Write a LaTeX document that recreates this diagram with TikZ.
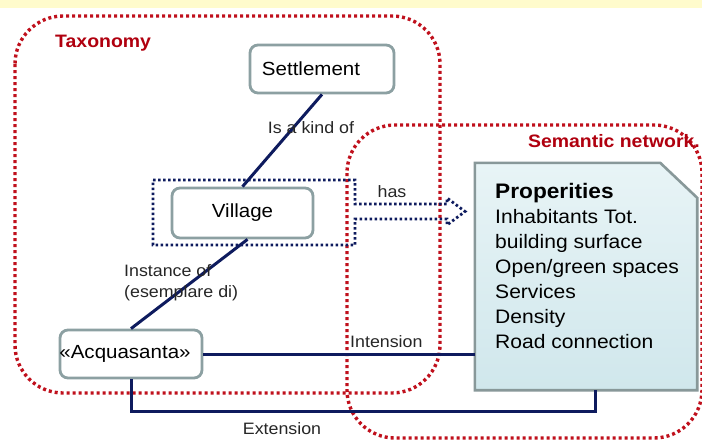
\documentclass[tikz,border=0pt]{standalone}
\usepackage{fontspec}
\setmainfont{Liberation Sans}[FakeStretch=1.08]
\usetikzlibrary{calc}
\definecolor{dotred}{HTML}{C0101C}
\definecolor{labred}{HTML}{B0000F}
\definecolor{navy}{HTML}{0E1B5E}
\definecolor{boxedge}{HTML}{8CA0A2}
\definecolor{propedge}{HTML}{889899}
\definecolor{proptop}{HTML}{E8F4F6}
\definecolor{propbot}{HTML}{D0E7EC}
\definecolor{band}{HTML}{FFFBCC}
\tikzset{
  reddots/.style={draw=dotred, line width=3.4pt, dash pattern=on 3pt off 3pt, rounded corners=48pt},
  conceptbox/.style={draw=boxedge, line width=2.8pt, fill=white, rounded corners=8pt, inner sep=0pt,
    font=\fontsize{19}{22}\selectfont},
  conn/.style={draw=navy, line width=3pt},
  lab/.style={font=\fontsize{16.5}{20}\selectfont, inner sep=0pt, text=black!85},
  grouplab/.style={font=\bfseries\fontsize{18}{21}\selectfont, text=labred, inner sep=0pt},
}
\begin{document}
\begin{tikzpicture}[x=1pt,y=-1pt]
\useasboundingbox (0,0) rectangle (702,442);
\fill[white] (0,0) rectangle (702,442);
\fill[band] (0,0) rectangle (702,8);
% group outlines
\draw[reddots] (15,16) rectangle (440,393);
\draw[reddots] (347,125) rectangle (702,438);
\node[grouplab, anchor=west] (taxlab) at (55,43) {Taxonomy};
\node[grouplab, anchor=east] (semlab) at (700,141) {Semantic network.};
% properties box
\node[minimum width=222pt, minimum height=227pt, inner sep=0pt] (prop) at (586,276.5) {};
\path[draw=propedge, line width=2.6pt, top color=proptop, bottom color=propbot]
  (prop.south west) -- (prop.north west) -- ([xshift=-37pt]prop.north east)
  -- ([yshift=-35pt]prop.north east) -- (prop.south east) -- cycle;
\node[anchor=north west, align=left, inner sep=0pt, font=\fontsize{19.5}{25}\selectfont] (proptext) at (495,183.5)
  {{\bfseries\fontsize{21}{25}\selectfont Properities}\\Inhabitants Tot.\\building surface\\Open/green spaces\\Services\\Density\\Road connection};
% concept boxes
\node[conceptbox, minimum width=144pt, minimum height=48pt] (set) at (322,69) {\hspace*{-22pt}Settlement};
\node[conceptbox, minimum width=141pt, minimum height=50pt] (vil) at (242.5,213) {Village};
\node[conceptbox, minimum width=142pt, minimum height=48pt] (acq) at (131,354) {\hspace*{-12pt}«Acquasanta»};
% has arrow (dotted navy outline)
\draw[draw=navy, line width=2.8pt, dash pattern=on 2.5pt off 2.5pt]
  (153,180) -- (355,180) -- (355,204) -- (447,204) -- (447,198) -- (465,211.5)
  -- (447,225) -- (447,219) -- (355,219) -- (355,245) -- (153,245) -- cycle;
\node[lab] (haslab) at (392,192) {has};
% connectors
\draw[conn] (set.south) -- (vil.north);
\draw[conn] ([xshift=5pt]vil.south) -- (acq.north);
\draw[conn] (acq.east) -- (acq.east -| prop.west);
\coordinate (extlow) at (0,411);
\draw[conn] (acq.south) -- (acq.south |- extlow) -| ([xshift=9pt]prop.south);
% labels
\node[lab] (kindlab) at (311,128) {Is a kind of};
\node[lab, anchor=north west, align=left, font=\fontsize{16.5}{21}\selectfont] (instlab) at (124,264) {Instance of\\(esemplare di)};
\node[lab, anchor=west] (intlab) at (350,342) {Intension};
\node[lab] (extlab) at (282,429) {Extension};
\end{tikzpicture}
\end{document}
